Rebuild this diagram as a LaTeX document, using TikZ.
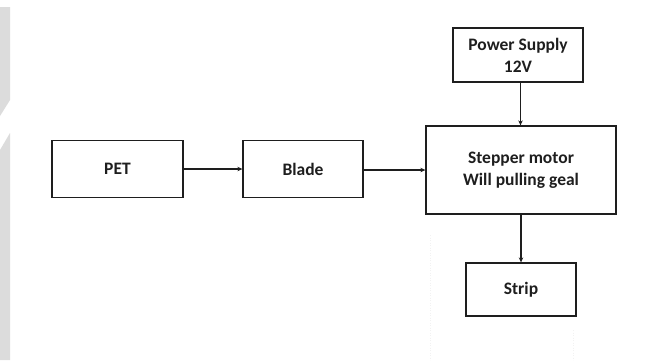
\documentclass[tikz,border=0pt]{standalone}
\usepackage{fontspec}
\setmainfont{Carlito}
\usetikzlibrary{arrows.meta}
\definecolor{ink}{HTML}{1E1E1E}
\definecolor{band}{HTML}{DCDCDC}
\tikzset{
  block/.style={draw=ink, line width=1.3pt, fill=white, inner sep=0pt,
    align=center, font=\fontsize{17.5}{22}\selectfont\bfseries, text=ink},
  flow/.style={draw=ink, line width=1.3pt,
    -{Stealth[length=5pt, width=4.5pt]}},
}
\begin{document}
\begin{tikzpicture}[x=1pt, y=-1pt]
  % canvas
  \useasboundingbox (0,0) rectangle (645,360);
  \fill[white] (0,0) rectangle (645,360);
  % grey page edge on the left
  \fill[band] (0,7) -- (10,7) -- (10,100) -- (0,116) -- cycle;
  \fill[band] (0,150) -- (10,133) -- (10,360) -- (0,360) -- cycle;
  % faint dotted guides
  \draw[gray!10, dotted, line width=0.5pt] (430,235) -- (430,360);
  \draw[gray!10, dotted, line width=0.5pt] (573,330) -- (573,360);

  % blocks
  \node[block, minimum width=131pt, minimum height=57pt] (pet) at (117.5,169) {PET};
  \node[block, minimum width=120pt, minimum height=57pt] (blade) at (303,169) {Blade};
  \node[block, minimum width=190pt, minimum height=88pt] (motor) at (521,170)
    {Stepper motor\\Will pulling geal};
  \node[block, minimum width=130pt, minimum height=54pt] (power) at (518,55)
    {Power Supply\\12V};
  \node[block, minimum width=110pt, minimum height=53pt] (strip) at (521,289.5) {Strip};

  % connectors
  \draw[flow] (pet.east) -- (blade.west);
  \draw[flow] ([yshift=-1pt]blade.east) -- ([yshift=-1pt]blade.east -| motor.west);
  \draw[flow] (power.south -| 520.5,0) -- (motor.north -| 520.5,0);
  \draw[flow] (motor.south) -- (strip.north);
\end{tikzpicture}
\end{document}
